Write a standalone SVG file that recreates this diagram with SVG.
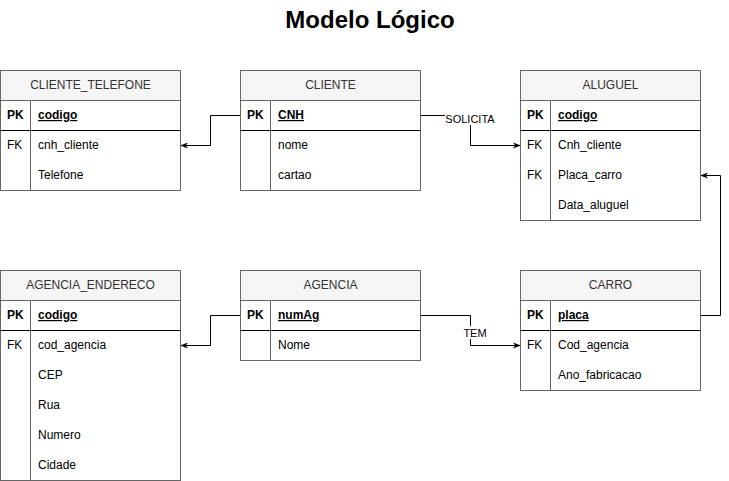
<svg xmlns="http://www.w3.org/2000/svg" width="729" height="481" viewBox="0 0 729 481">
<style>
.box{fill:#ffffff;stroke:#666666;stroke-width:1}
.hdr{fill:#f5f5f5;stroke:#666666;stroke-width:1}
.sep{stroke:#000000;stroke-width:1;fill:none}
.div{stroke:#666666;stroke-width:1;fill:none}
text{font-family:"Liberation Sans",Arial,sans-serif;font-size:12px;fill:#000000}
.ht{fill:#333333;text-anchor:middle}
.pk{font-weight:bold}
.u{text-decoration:underline;font-weight:bold}
.conn{stroke:#000000;stroke-width:1;fill:none;marker-end:url(#arr)}
.lbl{font-size:11px;text-anchor:middle}
.title{font-size:24px;font-weight:bold;text-anchor:middle}
</style>
<defs>
<marker id="arr" viewBox="0 0 10 10" refX="9" refY="5" markerWidth="8" markerHeight="8" markerUnits="userSpaceOnUse" orient="auto">
<path d="M0,1 L10,5 L0,9 L3,5 Z" fill="#000000"/>
</marker>
</defs>
<text class="title" x="370" y="28">Modelo Lógico</text>

<g id="connectors">
<path class="conn" d="M240.5,115.5 H210.5 V145.5 H181"/>
<path class="conn" d="M420.5,115.5 H470.5 V145.5 H520"/>
<path class="conn" d="M700.5,315.5 H720.5 V175.5 H701"/>
<path class="conn" d="M240.5,315.5 H210.5 V345.5 H181"/>
<path class="conn" d="M420.5,315.5 H470.5 V345.5 H520"/>
<rect x="445" y="112" width="50" height="13" fill="#ffffff"/>
<text class="lbl" x="470" y="123">SOLICITA</text>
<rect x="462" y="326" width="26" height="13" fill="#ffffff"/>
<text class="lbl" x="475" y="337">TEM</text>
</g>

<g id="cliente_telefone">
<rect class="box" x="0.5" y="70.5" width="180" height="120"/>
<rect class="hdr" x="0.5" y="70.5" width="180" height="30"/>
<text class="ht" x="90.5" y="89">CLIENTE_TELEFONE</text>
<line class="sep" x1="0.5" y1="130.5" x2="180.5" y2="130.5"/>
<line class="div" x1="30.5" y1="100.5" x2="30.5" y2="190.5"/>
<text class="pk" x="7" y="119">PK</text><text class="u" x="38" y="119">codigo</text>
<text x="7" y="149">FK</text><text x="38" y="149">cnh_cliente</text>
<text x="38" y="179">Telefone</text>
</g>

<g id="cliente">
<rect class="box" x="240.5" y="70.5" width="180" height="120"/>
<rect class="hdr" x="240.5" y="70.5" width="180" height="30"/>
<text class="ht" x="330.5" y="89">CLIENTE</text>
<line class="sep" x1="240.5" y1="130.5" x2="420.5" y2="130.5"/>
<line class="div" x1="270.5" y1="100.5" x2="270.5" y2="190.5"/>
<text class="pk" x="247" y="119">PK</text><text class="u" x="278" y="119">CNH</text>
<text x="278" y="149">nome</text>
<text x="278" y="179">cartao</text>
</g>

<g id="aluguel">
<rect class="box" x="520.5" y="70.5" width="180" height="150"/>
<rect class="hdr" x="520.5" y="70.5" width="180" height="30"/>
<text class="ht" x="610.5" y="89">ALUGUEL</text>
<line class="sep" x1="520.5" y1="130.5" x2="700.5" y2="130.5"/>
<line class="div" x1="550.5" y1="100.5" x2="550.5" y2="220.5"/>
<text class="pk" x="527" y="119">PK</text><text class="u" x="558" y="119">codigo</text>
<text x="527" y="149">FK</text><text x="558" y="149">Cnh_cliente</text>
<text x="527" y="179">FK</text><text x="558" y="179">Placa_carro</text>
<text x="558" y="209">Data_aluguel</text>
</g>

<g id="agencia_endereco">
<rect class="box" x="0.5" y="270.5" width="180" height="210"/>
<rect class="hdr" x="0.5" y="270.5" width="180" height="30"/>
<text class="ht" x="90.5" y="289">AGENCIA_ENDERECO</text>
<line class="sep" x1="0.5" y1="330.5" x2="180.5" y2="330.5"/>
<line class="div" x1="30.5" y1="300.5" x2="30.5" y2="480.5"/>
<text class="pk" x="7" y="319">PK</text><text class="u" x="38" y="319">codigo</text>
<text x="7" y="349">FK</text><text x="38" y="349">cod_agencia</text>
<text x="38" y="379">CEP</text>
<text x="38" y="409">Rua</text>
<text x="38" y="439">Numero</text>
<text x="38" y="469">Cidade</text>
</g>

<g id="agencia">
<rect class="box" x="240.5" y="270.5" width="180" height="90"/>
<rect class="hdr" x="240.5" y="270.5" width="180" height="30"/>
<text class="ht" x="330.5" y="289">AGENCIA</text>
<line class="sep" x1="240.5" y1="330.5" x2="420.5" y2="330.5"/>
<line class="div" x1="270.5" y1="300.5" x2="270.5" y2="360.5"/>
<text class="pk" x="247" y="319">PK</text><text class="u" x="278" y="319">numAg</text>
<text x="278" y="349">Nome</text>
</g>

<g id="carro">
<rect class="box" x="520.5" y="270.5" width="180" height="120"/>
<rect class="hdr" x="520.5" y="270.5" width="180" height="30"/>
<text class="ht" x="610.5" y="289">CARRO</text>
<line class="sep" x1="520.5" y1="330.5" x2="700.5" y2="330.5"/>
<line class="div" x1="550.5" y1="300.5" x2="550.5" y2="390.5"/>
<text class="pk" x="527" y="319">PK</text><text class="u" x="558" y="319">placa</text>
<text x="527" y="349">FK</text><text x="558" y="349">Cod_agencia</text>
<text x="558" y="379">Ano_fabricacao</text>
</g>
</svg>
